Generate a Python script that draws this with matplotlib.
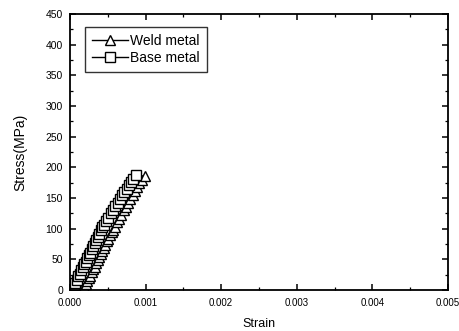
import matplotlib
matplotlib.use("Agg")
import matplotlib.pyplot as plt
from matplotlib.ticker import MultipleLocator

plt.rcParams['font.family'] = ['Liberation Sans', 'DejaVu Sans']

# Base metal (squares): strain x1e-3, stress MPa
base_strain = [0.00, 0.01, 0.02, 0.03, 0.05, 0.07, 0.09, 0.11, 0.13, 0.15,
               0.17, 0.19, 0.21, 0.23, 0.25, 0.27, 0.29, 0.31, 0.33, 0.35,
               0.37, 0.39, 0.41, 0.43, 0.45, 0.48, 0.51, 0.54, 0.57, 0.60,
               0.63, 0.66, 0.69, 0.72, 0.75, 0.78, 0.81, 0.84, 0.88]
base_stress = [0, 1, 3, 5, 8, 12, 17, 22, 26, 32,
               37, 42, 46, 52, 57, 61, 67, 72, 76, 82,
               87, 91, 97, 102, 106, 113, 118, 125, 130, 137,
               142, 149, 154, 160, 165, 171, 176, 181, 187]

# Weld metal (triangles)
weld_strain = [0.00, 0.04, 0.08, 0.12, 0.16, 0.19, 0.21, 0.23, 0.25, 0.27,
               0.29, 0.31, 0.33, 0.35, 0.37, 0.39, 0.41, 0.43, 0.45, 0.47,
               0.49, 0.51, 0.53, 0.55, 0.57, 0.59, 0.62, 0.65, 0.68, 0.71,
               0.74, 0.77, 0.80, 0.83, 0.86, 0.89, 0.92, 0.95, 0.99]
weld_stress = [0, 0, 1, 2, 3, 5, 9, 14, 19, 23,
               29, 34, 38, 44, 49, 53, 59, 64, 68, 74,
               79, 83, 89, 94, 98, 103, 110, 116, 123, 130,
               136, 142, 149, 155, 162, 168, 174, 180, 186]

fig = plt.figure(figsize=(4.6, 3.31), dpi=100)
ax = fig.add_axes([0.152, 0.124, 0.822, 0.834])

ax.plot([s * 1e-3 for s in weld_strain], weld_stress, '-', color='black',
        marker='^', markersize=7, markerfacecolor='white', markeredgecolor='black',
        markeredgewidth=1.0, linewidth=1.0, label='Weld metal')
ax.plot([s * 1e-3 for s in base_strain], base_stress, '-', color='black',
        marker='s', markersize=6.5, markerfacecolor='white', markeredgecolor='black',
        markeredgewidth=1.0, linewidth=1.0, label='Base metal')

ax.set_xlim(0, 0.005)
ax.set_ylim(0, 450)
ax.xaxis.set_major_locator(MultipleLocator(0.001))
ax.xaxis.set_minor_locator(MultipleLocator(0.0005))
ax.yaxis.set_major_locator(MultipleLocator(50))
ax.yaxis.set_minor_locator(MultipleLocator(25))
ax.xaxis.set_major_formatter(matplotlib.ticker.FormatStrFormatter('%.3f'))
ax.tick_params(which='both', direction='in', top=True, right=True)
ax.tick_params(axis='y', labelsize=7.5, pad=5)
ax.tick_params(axis='x', labelsize=7, pad=6)
ax.tick_params(which='major', length=4.5, width=1.1)
ax.tick_params(which='minor', length=2.5, width=0.9)
for sp in ax.spines.values():
    sp.set_linewidth(1.3)

ax.set_xlabel('Strain', fontsize=9, labelpad=7)
ax.set_ylabel('Stress(MPa)', fontsize=10, labelpad=13)

leg = ax.legend(loc='upper left', bbox_to_anchor=(0.04, 0.953), fontsize=10,
                frameon=True, fancybox=False, edgecolor='black', handlelength=2.6,
                handletextpad=0.15, borderpad=0.5, labelspacing=0.22,
                borderaxespad=0)
leg.get_frame().set_linewidth(1.0)

fig.savefig('out.png', dpi=100)
